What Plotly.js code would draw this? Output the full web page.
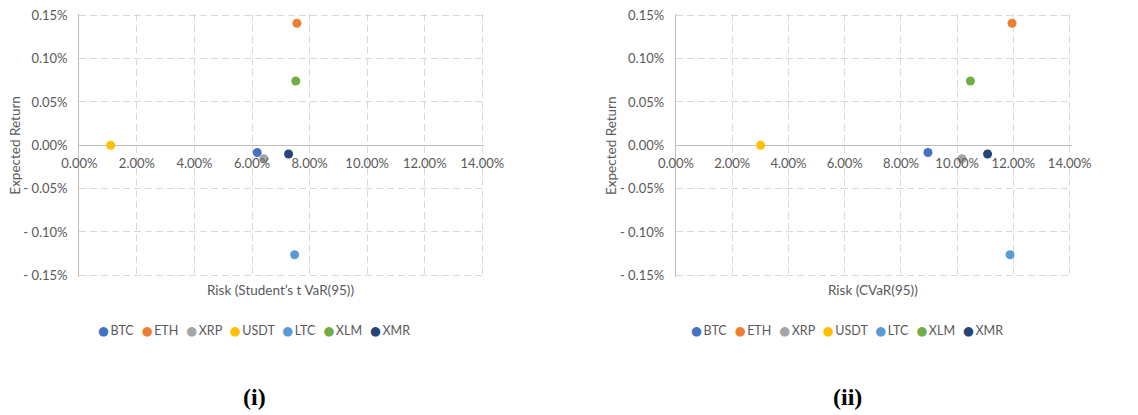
<!DOCTYPE html>
<html>
<head>
<meta charset="utf-8">
<script src="https://cdn.plot.ly/plotly-3.0.1.min.js"></script>
<style>html,body{margin:0;padding:0;background:#fff;}</style>
</head>
<body>
<div id="chart" style="width:1138px;height:415px;"></div>
<script>
// ---- data ----
const assets = ['BTC', 'ETH', 'XRP', 'USDT', 'LTC', 'XLM', 'XMR'];
const assetColors = ['#4472C4', '#ED7D31', '#A5A5A5', '#FFC000', '#5B9BD5', '#70AD47', '#264478'];
const riskStudentT = [6.18, 7.56, 6.41, 1.09, 7.48, 7.52, 7.27];   // % (Student's t VaR(95))
const riskCVaR     = [8.96, 11.95, 10.17, 3.01, 11.88, 10.47, 11.08]; // % (CVaR(95))
const expectedReturn = [-0.0083, 0.1408, -0.0155, 0.0000, -0.1263, 0.0742, -0.0100]; // %
const xTickVals = [0, 2, 4, 6, 8, 10, 12, 14];
const xTickText = ['0.00%', '2.00%', '4.00%', '6.00%', '8.00%', '10.00%', '12.00%', '14.00%'];
const yTickVals = [-0.15, -0.10, -0.05, 0, 0.05, 0.10, 0.15];
const yTickText = ['- 0.15%', '- 0.10%', '- 0.05%', '0.00%', '0.05%', '0.10%', '0.15%'];
const xTitles = ['Risk (Student’s t VaR(95))', 'Risk (CVaR(95))'];
const yTitle = 'Expected Return';
const panelLabels = ['(i)', '(ii)'];

const FONT = 'Lato, "Open Sans", sans-serif';
const GRAY = '#595959';
const GRID = '#D9D9D9';

const traces = [];
[riskStudentT, riskCVaR].forEach((risk, p) => {
  assets.forEach((a, i) => {
    traces.push({
      type: 'scatter', mode: 'markers', name: a,
      x: [risk[i]], y: [expectedReturn[i]],
      xaxis: p === 0 ? 'x' : 'x2', yaxis: p === 0 ? 'y' : 'y2',
      marker: {color: assetColors[i], size: 9},
      showlegend: false, hoverinfo: 'name+x+y'
    });
  });
});

// small padding beyond the outer ticks so the boundary grid lines are drawn
const yDom = [0.3325, 0.9673];
const zeroPos = (yDom[0] + yDom[1]) / 2;

function xAxis(domain) {
  return {
    domain: domain, range: [0, 14.07], anchor: 'free', position: zeroPos,
    tickvals: xTickVals, ticktext: xTickText,
    showgrid: true, gridcolor: GRID, griddash: '7px,4px', gridwidth: 1,
    zeroline: false, showline: false, ticks: '',
    ticklabelstandoff: 9,
    tickfont: {family: FONT, size: 13, color: GRAY}
  };
}
function yAxis(anchor) {
  return {
    domain: yDom, range: [-0.152, 0.152], anchor: anchor,
    tickvals: yTickVals, ticktext: yTickText,
    showgrid: true, gridcolor: GRID, griddash: '7px,4px', gridwidth: 1,
    zeroline: true, zerolinecolor: '#BFBFBF', zerolinewidth: 1.5,
    showline: true, linecolor: '#BFBFBF', linewidth: 1.2,
    ticks: '', ticklabelstandoff: 8,
    tickfont: {family: FONT, size: 13, color: GRAY}
  };
}

function legendText() {
  return assets.map((a, i) =>
    '<span style="color:' + assetColors[i] + ';font-family:DejaVu Sans">●</span>&#8201;' + a
  ).join('&nbsp;&nbsp;&#8201;');
}

const annotations = [];
const xCenters = [0.2465, 0.7671];
const legCenters = [0.2236, 0.7443];
const yTitleX = [0.0135, 0.5375];
for (let p = 0; p < 2; p++) {
  annotations.push({
    xref: 'paper', yref: 'paper', x: xCenters[p], y: 0.3012, xanchor: 'center', yanchor: 'middle',
    showarrow: false, text: xTitles[p], font: {family: FONT, size: 13.5, color: GRAY}
  });
  annotations.push({
    xref: 'paper', yref: 'paper', x: yTitleX[p], y: zeroPos, xanchor: 'center', yanchor: 'middle',
    textangle: -90, showarrow: false, text: yTitle, font: {family: FONT, size: 13.5, color: GRAY}
  });
  annotations.push({
    xref: 'paper', yref: 'paper', x: legCenters[p], y: 0.2048, xanchor: 'center', yanchor: 'middle',
    showarrow: false, text: legendText(), font: {family: FONT, size: 12.5, color: GRAY}
  });
  annotations.push({
    xref: 'paper', yref: 'paper', x: legCenters[p], y: 0.043, xanchor: 'center', yanchor: 'middle',
    showarrow: false, text: '<b>' + panelLabels[p] + '</b>',
    font: {family: '"Liberation Serif", "DejaVu Serif", serif', size: 24, color: '#000'}
  });
}

const layout = {
  width: 1138, height: 415, autosize: false,
  margin: {l: 0, r: 0, t: 0, b: 0},
  paper_bgcolor: '#fff', plot_bgcolor: '#fff',
  showlegend: false,
  xaxis: xAxis([0.0697, 0.4256]),
  yaxis: yAxis('x'),
  xaxis2: xAxis([0.5940, 0.9417]),
  yaxis2: yAxis('x2'),
  annotations: annotations
};

Plotly.newPlot('chart', traces, layout, {displayModeBar: false, staticPlot: true});
</script>
</body>
</html>
